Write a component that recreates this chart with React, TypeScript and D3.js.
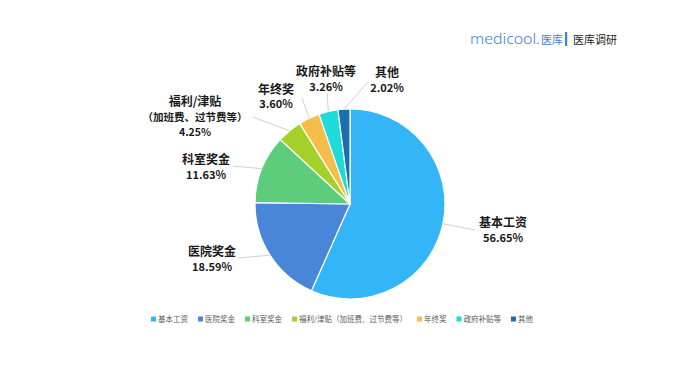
import { useMemo } from "react";
import * as d3 from "d3";

const categories = ["基本工资", "医院奖金", "科室奖金", "福利/津贴（加班费、过节费等）", "年终奖", "政府补贴等", "其他"];
const values = [56.65, 18.59, 11.63, 4.25, 3.6, 3.26, 2.02];
const labelLines = [["基本工资"], ["医院奖金"], ["科室奖金"], ["福利/津贴", "（加班费、过节费等）"], ["年终奖"], ["政府补贴等"], ["其他"]];
const colors = ["#33b5f8", "#4a86d8", "#5dcc7b", "#a5d02a", "#f4be4a", "#1ddbd9", "#1b6fad"];

// label placement (annotation layout, not data)
const labelLayout = [
  { x: 503, y: 223, lx: 475, ly: 230 },
  { x: 212, y: 252, lx: 238, ly: 258 },
  { x: 206, y: 160, lx: 233, ly: 166 },
  { x: 195, y: 102, lx: 253, ly: 117 },
  { x: 276, y: 89.5, lx: 302, ly: 98 },
  { x: 326, y: 72, lx: 327, ly: 93 },
  { x: 387, y: 73, lx: 368, ly: 82 },
];

const W = 678;
const H = 371;
const CX = 350;
const CY = 204;
const R = 95;
const CJK = "'Noto Sans CJK SC', 'Noto Sans', sans-serif";

export default function App() {
  const arcs = useMemo(() => {
    const pie = d3.pie<number>().sort(null).value((d) => d);
    return pie(values);
  }, []);

  const arc = d3.arc<d3.PieArcDatum<number>>().innerRadius(0).outerRadius(R);
  const edge = d3.arc<d3.PieArcDatum<number>>().innerRadius(R).outerRadius(R);

  const legend = useMemo(() => {
    const ctx = document.createElement("canvas").getContext("2d")!;
    ctx.font = `7.5px ${CJK}`;
    const box = 5;
    const gap = 2;
    const itemGap = 10;
    const widths = categories.map((c) => ctx.measureText(c).width);
    const total = widths.reduce((s, w) => s + box + gap + w, 0) + itemGap * (categories.length - 1);
    let x = 342 - total / 2;
    return categories.map((c, i) => {
      const item = { name: c, x, color: colors[i] };
      x += box + gap + widths[i] + itemGap;
      return item;
    });
  }, []);

  return (
    <svg width={W} height={H} style={{ position: "absolute", left: 0, top: 0, background: "#fff" }}>
      {/* logo */}
      <text x={470} y={44} fontFamily="'Noto Sans', sans-serif" fontWeight={300} fontSize={14} fill="#3a82d4" textLength={70} lengthAdjust="spacingAndGlyphs">
        medicool.
      </text>
      <text x={541} y={44} fontFamily={CJK} fontSize={11} fill="#3a82d4">医库</text>
      <rect x={565} y={32} width={2.2} height={14} fill="#3a82d4" />
      <text x={573} y={43.5} fontFamily={CJK} fontSize={11} fill="#222">医库调研</text>

      <g transform={`translate(${CX},${CY})`}>
        {arcs.map((a, i) => (
          <path key={i} d={arc(a)!} fill={colors[i]} stroke="#fff" strokeWidth={1.2} />
        ))}
      </g>

      {arcs.map((a, i) => {
        const [ex, ey] = edge.centroid(a);
        const L = labelLayout[i];
        const lines = labelLines[i];
        const multi = lines.length > 1;
        const fs = multi ? 10.5 : 11;
        const step = multi ? 15 : 15;
        return (
          <g key={i}>
            <line x1={CX + ex} y1={CY + ey} x2={L.lx} y2={L.ly} stroke="#c4c4c4" strokeWidth={0.8} />
            {lines.map((t, j) => (
              <text key={j} x={L.x} y={L.y + j * step} dy="0.36em" textAnchor="middle" fontFamily={CJK} fontWeight={700} fontSize={j === 0 ? 12 : fs} fill="#1a1a1a">
                {t}
              </text>
            ))}
            <text x={L.x} y={L.y + lines.length * step} dy="0.36em" textAnchor="middle" fontFamily={CJK} fontWeight={700} fontSize={fs} fill="#1a1a1a">
              {values[i].toFixed(2)}%
            </text>
          </g>
        );
      })}

      {legend.map((l, i) => (
        <g key={i}>
          <rect x={l.x} y={316.5} width={5} height={5} fill={l.color} />
          <text x={l.x + 7} y={319} dy="0.36em" fontFamily={CJK} fontSize={7.5} fill="#595959">
            {l.name}
          </text>
        </g>
      ))}
    </svg>
  );
}
